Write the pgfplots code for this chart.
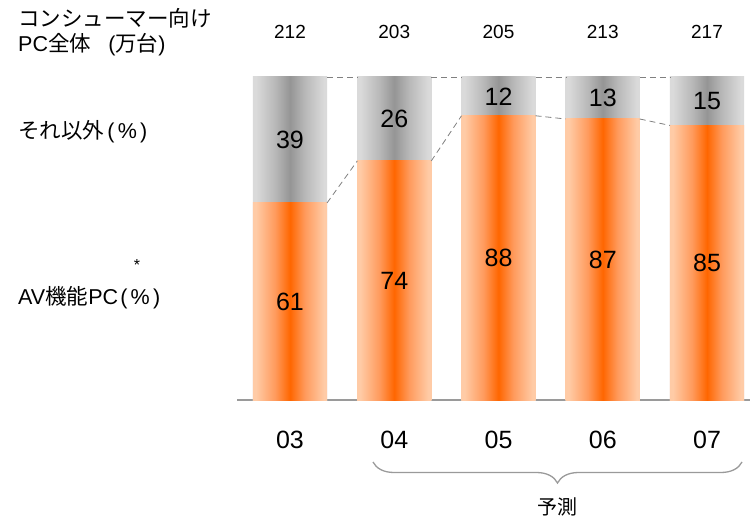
\documentclass[border=0pt]{standalone}
\usepackage{pgfplots}
\pgfplotsset{compat=1.18}
\usepackage{pgfplotstable}
\usepackage{fontspec}
\setmainfont{Liberation Sans}
\newfontfamily\jp{Noto Sans CJK JP}
\usetikzlibrary{decorations.pathreplacing}

\definecolor{orEdge}{HTML}{FFCBA6}
\definecolor{orMid}{HTML}{FF6600}
\definecolor{orQuart}{HTML}{FF9A5C}
\definecolor{grEdge}{HTML}{DADADA}
\definecolor{grMid}{HTML}{959595}
\definecolor{grQuart}{HTML}{B8B8B8}
\definecolor{axGray}{HTML}{9A9A9A}
\definecolor{dashGray}{HTML}{808080}

% side-to-side shadings for the bars: the path spans 25bp..75bp
\pgfdeclarehorizontalshading{orbar}{100bp}{color(0bp)=(orEdge); color(27bp)=(orEdge);
  color(40bp)=(orQuart); color(50bp)=(orMid); color(60bp)=(orQuart);
  color(73bp)=(orEdge); color(100bp)=(orEdge)}
\pgfdeclarehorizontalshading{grbar}{100bp}{color(0bp)=(grEdge); color(27bp)=(grEdge);
  color(40bp)=(grQuart); color(50bp)=(grMid); color(60bp)=(grQuart);
  color(73bp)=(grEdge); color(100bp)=(grEdge)}

% share of consumer PCs with AV functions, the rest, and total shipments
\pgfplotstableread{
x av other total
0 61 39 212
1 74 26 203
2 88 12 205
3 87 13 213
4 85 15 217
}\pcdata

\begin{document}
\begin{tikzpicture}[x=1pt,y=1pt]
\useasboundingbox (0,0) rectangle (750,520);
\begin{axis}[
  at={(237pt,120pt)}, anchor=south west,
  scale only axis, width=513pt, height=323pt,
  xmin=-0.5084, xmax=4.4125, ymin=0, ymax=100,
  clip=false,
  axis x line=bottom, axis y line=none,
  x axis line style={-, draw=axGray, line width=1.6pt},
  xtick={0,1,2,3,4},
  xticklabels={03,04,05,06,07},
  major tick length=0pt,
  xticklabel style={font=\fontsize{25}{30}\selectfont, anchor=center, yshift=-40pt},
  bar width=0.71, bar shift=0pt,
  /pgf/number format/assume math mode=true,
]
% each bar on its own so that every bar gets its own side-to-side shading:
% the whole bar (100%) in grey, the AV share in orange over it
\pgfplotsinvokeforeach{0,1,2,3,4}{
  \addplot[ybar, draw=none, shading=grbar,
    x filter/.expression={abs(x-#1)<0.1 ? x : nan}]
    table[x=x, y expr=\thisrow{av}+\thisrow{other}] {\pcdata};
  \addplot[ybar, draw=none, shading=orbar,
    x filter/.expression={abs(x-#1)<0.1 ? x : nan}]
    table[x=x, y=av] {\pcdata};
}

% connectors between neighbouring bars
\pgfplotsset{conn/.style={dashGray, line width=0.8pt, dash pattern=on 6pt off 4pt, mark=none}}
\addplot[conn] coordinates {(0.355,100) (0.645,100)};
\addplot[conn] coordinates {(1.355,100) (1.645,100)};
\addplot[conn] coordinates {(2.355,100) (2.645,100)};
\addplot[conn] coordinates {(3.355,100) (3.645,100)};
\addplot[conn] coordinates {(0.355,61) (0.645,74)};
\addplot[conn] coordinates {(1.355,74) (1.645,88)};
\addplot[conn] coordinates {(2.355,88) (2.645,87)};
\addplot[conn] coordinates {(3.355,87) (3.645,85)};

% segment labels
\addplot[draw=none, mark=none, nodes near coords, point meta=explicit,
  every node near coord/.style={anchor=center, font=\fontsize{25}{30}\selectfont, text=black}]
  table[x=x, y expr=\thisrow{av}/2, meta=av] {\pcdata};
\addplot[draw=none, mark=none, nodes near coords, point meta=explicit,
  every node near coord/.style={anchor=center, font=\fontsize{25}{30}\selectfont, text=black}]
  table[x=x, y expr=\thisrow{av}+\thisrow{other}/2, meta=other] {\pcdata};
% totals above the bars
\addplot[draw=none, mark=none, nodes near coords, point meta=explicit,
  every node near coord/.style={anchor=center, font=\fontsize{19}{23}\selectfont, text=black}]
  table[x=x, y expr=113.9, meta=total] {\pcdata};
\end{axis}

% row captions
\begin{scope}[every node/.style={anchor=west, inner sep=0pt, font=\fontsize{21.5}{26}\selectfont}]
\node at (18,502) {\jp コンシューマー向け};
\node at (18,475) {PC{\jp 全体}\hspace{0.8em}({\jp 万台})};
\node at (18,388) {{\jp それ以外}\hspace{0.15em}(\hspace{0.15em}\%\hspace{0.15em})};
\node at (18,222) {AV{\jp 機能}PC\hspace{0.1em}(\hspace{0.15em}\%\hspace{0.15em})};
\end{scope}
\node[font=\fontsize{16}{18}\selectfont] at (137,255) {*};

% forecast bracket
\draw[axGray, line width=1.3pt, decorate, decoration={brace, mirror, amplitude=21pt}]
  (373,58) -- (742,58);
\node[font=\fontsize{20}{24}\selectfont] at (557,13) {\jp 予測};
\end{tikzpicture}
\end{document}
